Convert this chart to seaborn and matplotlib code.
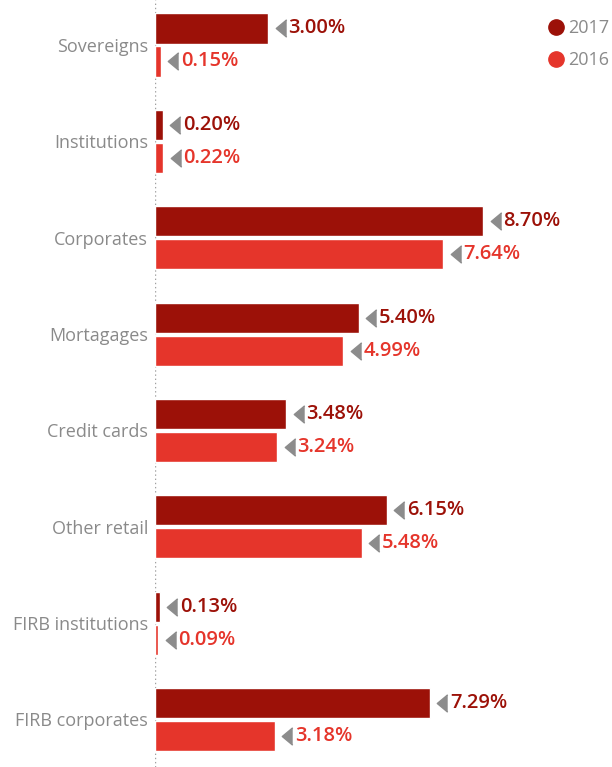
import matplotlib
matplotlib.use("Agg")
import matplotlib.pyplot as plt
from matplotlib.lines import Line2D
from matplotlib.transforms import ScaledTranslation
import pandas as pd
import seaborn as sns

categories = ["Sovereigns", "Institutions", "Corporates", "Mortagages",
              "Credit cards", "Other retail", "FIRB institutions", "FIRB corporates"]
years = ["2017", "2016"]
values_2017 = [3.00, 0.20, 8.70, 5.40, 3.48, 6.15, 0.13, 7.29]
values_2016 = [0.15, 0.22, 7.64, 4.99, 3.24, 5.48, 0.09, 3.18]
colors = ["#9C1108", "#E5352B"]
label_gray = "#8A8A8A"

df = pd.DataFrame({
    "category": categories * 2,
    "year": [years[0]] * len(categories) + [years[1]] * len(categories),
    "value": values_2017 + values_2016,
})

sns.set_theme(style="white")
plt.rcParams["font.family"] = ["Open Sans", "DejaVu Sans"]

dpi = 100
fig = plt.figure(figsize=(6.12, 7.67), dpi=dpi)
ax = fig.add_axes([155 / 612, 0.0, (612 - 155) / 612, 1.0])

sns.barplot(data=df, y="category", x="value", hue="year", order=categories,
            hue_order=years, palette=colors, orient="h", width=0.685, gap=0.09,
            saturation=1, legend=False, ax=ax)

ax.set_xlim(0, 12.12)
ax.set_ylim(7.493, -0.467)
for s in ax.spines.values():
    s.set_visible(False)
ax.set_xticks([])
ax.set_xlabel("")
ax.set_ylabel("")
ax.tick_params(axis="y", length=0, pad=5, labelsize=13, labelcolor=label_gray)
ax.axvline(0, color="#A0A0A0", lw=1, ls=(0, (1, 2)), zorder=0)

# pointer triangle, taller than wide
tri = [(0.3, 0.5), (-0.3, 0.0), (0.3, -0.5)]
shift = ax.transData + ScaledTranslation(9 / 72, 0, fig.dpi_scale_trans)

for container, color in zip(ax.containers, colors):
    for bar in container:
        w = bar.get_width()
        yc = bar.get_y() + bar.get_height() / 2
        ax.plot([w], [yc], marker=tri, markersize=12.5, color="#8C8C8C",
                linestyle="none", clip_on=False, transform=shift)
        ax.annotate(f"{w:.2f}%", xy=(w, yc), xytext=(14.5, 0),
                    textcoords="offset points", ha="left", va="center",
                    color=color, fontsize=14.5, fontweight="semibold")

handles = [Line2D([], [], marker="o", linestyle="none", markersize=11,
                  markerfacecolor=c, markeredgecolor=c) for c in colors]
leg = ax.legend(handles, years, loc="upper right", bbox_to_anchor=(1.009, 0.984),
                frameon=False, handletextpad=0.25, labelspacing=0.75,
                fontsize=13, borderaxespad=0.0, handlelength=0.8)
for t in leg.get_texts():
    t.set_color(label_gray)

fig.savefig("out.png", dpi=dpi)
